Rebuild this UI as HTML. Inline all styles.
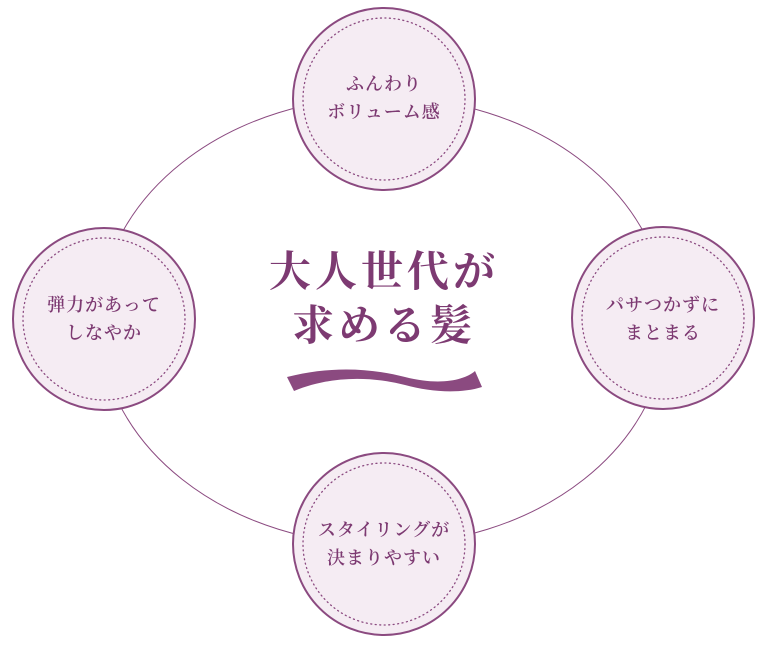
<!DOCTYPE html>
<html><head><meta charset="utf-8"><style>
html,body{margin:0;padding:0;background:#fff;}
svg{display:block}
text{font-family:"Liberation Serif","Noto Serif CJK SC",serif;fill:#7d3a72;}
</style></head><body>
<svg width="764" height="646" viewBox="0 0 764 646">
<ellipse cx="383" cy="321" rx="284" ry="224" fill="none" stroke="#8b4a80" stroke-width="1"/>
<g fill="#f5ecf3" stroke="#8b4a80" stroke-width="2">
<circle cx="384" cy="99" r="91"/>
<circle cx="104" cy="319" r="91"/>
<circle cx="663" cy="318" r="91"/>
<circle cx="384" cy="544" r="91"/>
</g>
<g fill="none" stroke="#8b4a80" stroke-width="1.3" stroke-dasharray="1 3.5" stroke-linecap="round">
<circle cx="384" cy="99" r="81"/>
<circle cx="104" cy="319" r="81"/>
<circle cx="663" cy="318" r="81"/>
<circle cx="384" cy="544" r="81"/>
</g>
<g font-size="18" text-anchor="middle" font-weight="600" letter-spacing="1">
<text x="384" y="90">ふんわり</text>
<text x="384" y="118">ボリューム感</text>
<text x="104" y="311">弾力があって</text>
<text x="104" y="339">しなやか</text>
<text x="663" y="311">パサつかずに</text>
<text x="663" y="339">まとまる</text>
<text x="384" y="536">スタイリングが</text>
<text x="384" y="564">決まりやすい</text>
</g>
<g font-size="42" text-anchor="middle" font-weight="700" letter-spacing="4">
<text x="384" y="286">大人世代が</text>
<text x="384" y="340">求める髪</text>
</g>
<path d="M287 377 C330 366 370 368 405 377 C440 386 465 380 475 371 L482 387 C460 394 430 392 405 385 C370 376 330 376 294 391 Z" fill="#8b4a80"/>
</svg>
</body></html>
